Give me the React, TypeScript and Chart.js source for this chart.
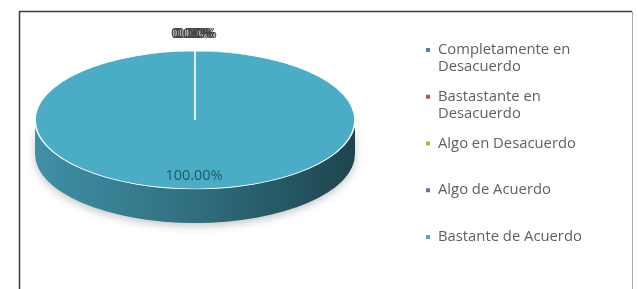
import { useEffect, useRef } from "react";
import { Chart, registerables } from "chart.js";

Chart.register(...registerables);

// ---- data ----
const categories = [
  "Completamente en Desacuerdo",
  "Bastastante en Desacuerdo",
  "Algo en Desacuerdo",
  "Algo de Acuerdo",
  "Bastante de Acuerdo",
];
const values = [0, 0, 0, 0, 100];
const colors = ["#4F81BD", "#C0504D", "#9BBB59", "#8064A2", "#4BACC6"];

// ---- layout / style ----
const W = 638;
const H = 289;
const CX = 195;
const CY = 120;
const RX = 160;
const RY = 69;
const DEPTH = 34;
const BASE_R = 100;
const FONT = "'Open Sans', 'Liberation Sans', sans-serif";

function shade(hex: string, f: number): string {
  const h = hex.replace("#", "");
  const r = Math.round(parseInt(h.slice(0, 2), 16) * f);
  const g = Math.round(parseInt(h.slice(2, 4), 16) * f);
  const b = Math.round(parseInt(h.slice(4, 6), 16) * f);
  return `rgb(${r},${g},${b})`;
}

const framePlugin = {
  id: "frame",
  beforeDraw(chart: any) {
    const ctx = chart.ctx;
    ctx.save();
    ctx.fillStyle = "#ffffff";
    ctx.fillRect(0, 0, W, H);
    ctx.restore();
  },
  afterDraw(chart: any) {
    const ctx = chart.ctx;
    ctx.save();
    ctx.strokeStyle = "#3a3a3a";
    ctx.lineWidth = 1.5;
    ctx.beginPath();
    ctx.moveTo(19.5, H);
    ctx.lineTo(19.5, 11.5);
    ctx.lineTo(632, 11.5);
    ctx.stroke();
    ctx.strokeStyle = "#a8a8a8";
    ctx.lineWidth = 1;
    ctx.beginPath();
    ctx.moveTo(632.5, 11.5);
    ctx.lineTo(632.5, H);
    ctx.stroke();
    ctx.restore();
  },
};

const pie3dPlugin = {
  id: "pie3d",
  beforeDatasetsDraw(chart: any) {
    const meta = chart.getDatasetMeta(0);
    const arcs = meta.data;
    const ctx = chart.ctx;
    ctx.save();
    if (!arcs.length) return;
    const { x, y, outerRadius: r } = arcs[0];
    const sx = RX / r;
    const sy = RY / r;
    ctx.translate(x, y);
    ctx.scale(sx, sy);
    ctx.translate(-x, -y);
    const d = DEPTH / sy;
    arcs.forEach((arc: any) => {
      const s = arc.startAngle;
      const e = arc.endAngle;
      if (e - s <= 0) return;
      const base = arc.options.backgroundColor as string;
      for (let k = -1; k <= 1; k++) {
        const lo = Math.max(s, 2 * Math.PI * k);
        const hi = Math.min(e, Math.PI + 2 * Math.PI * k);
        if (hi <= lo) continue;
        ctx.save();
        ctx.beginPath();
        ctx.arc(x, y, r, lo, hi);
        ctx.arc(x, y + d, r, hi, lo, true);
        ctx.closePath();
        const g = ctx.createLinearGradient(x - r, 0, x + r, 0);
        g.addColorStop(0, shade(base, 0.84));
        g.addColorStop(0.45, shade(base, 0.66));
        g.addColorStop(1, shade(base, 0.4));
        ctx.fillStyle = g;
        ctx.shadowColor = "rgba(0,0,0,0.22)";
        ctx.shadowBlur = 8;
        ctx.shadowOffsetY = 3;
        ctx.fill();
        ctx.restore();
      }
    });
  },
  afterDatasetsDraw(chart: any) {
    const ctx = chart.ctx;
    ctx.restore();
    const meta = chart.getDatasetMeta(0);
    const arcs = meta.data;
    if (!arcs.length) return;
    const data = chart.data.datasets[0].data as number[];
    const total = data.reduce((a, b) => a + b, 0);
    const { x, y } = arcs[0];
    ctx.save();
    ctx.textAlign = "center";
    ctx.textBaseline = "middle";
    ctx.font = `14.5px ${FONT}`;
    let small = 0;
    arcs.forEach((arc: any, i: number) => {
      const v = data[i];
      const frac = total ? v / total : 0;
      const pct = (frac * 100).toFixed(2) + "%";
      const m = (arc.startAngle + arc.endAngle) / 2;
      let lx: number;
      let ly: number;
      if (frac > 0.05) {
        lx = x + Math.cos(m) * RX * 0.8 - 1;
        ly = y + Math.sin(m) * RY * 0.81;
        ctx.fillStyle = "#215a6b";
      } else {
        lx = x + Math.cos(m) * RX + (small - 1.5) * 1.8 - 1;
        ly = y + Math.sin(m) * RY - 17;
        ctx.fillStyle = "#404040";
        small++;
      }
      ctx.fillText(pct, lx, ly);
    });
    ctx.restore();
  },
};

const legendPlugin = {
  id: "sideLegend",
  afterDraw(chart: any) {
    const ctx = chart.ctx;
    const labels = chart.data.labels as string[];
    const bg = chart.data.datasets[0].backgroundColor as string[];
    const LX = 426;
    const TX = 438;
    const TOP = 50;
    const SLOT = 46.75;
    const LINE = 17;
    const MAXW = 155;
    ctx.save();
    ctx.font = `14.8px ${FONT}`;
    ctx.textBaseline = "middle";
    ctx.textAlign = "left";
    labels.forEach((lab, i) => {
      const words = lab.split(" ");
      const lines: string[] = [];
      let cur = "";
      words.forEach((w) => {
        const t = cur ? cur + " " + w : w;
        if (ctx.measureText(t).width > MAXW && cur) {
          lines.push(cur);
          cur = w;
        } else cur = t;
      });
      if (cur) lines.push(cur);
      const y0 = TOP + i * SLOT;
      ctx.fillStyle = bg[i];
      ctx.fillRect(LX, y0 - 2, 4, 4);
      ctx.fillStyle = "#5f5f5f";
      lines.forEach((ln, j) => ctx.fillText(ln, TX, y0 + j * LINE));
    });
    ctx.restore();
  },
};

export default function App() {
  const ref = useRef<HTMLCanvasElement | null>(null);
  useEffect(() => {
    if (!ref.current) return;
    const chart = new Chart(ref.current, {
      type: "pie",
      data: {
        labels: categories,
        datasets: [
          {
            data: values,
            backgroundColor: colors,
            borderColor: "#ffffff",
            borderWidth: 1,
          },
        ],
      },
      options: {
        responsive: false,
        maintainAspectRatio: false,
        animation: false,
        events: [],
        layout: {
          padding: {
            left: CX - BASE_R,
            right: W - (CX + BASE_R),
            top: CY - BASE_R,
            bottom: H - (CY + BASE_R),
          },
        },
        plugins: {
          legend: { display: false },
          tooltip: { enabled: false },
        },
      },
      plugins: [framePlugin, pie3dPlugin, legendPlugin],
    });
    return () => chart.destroy();
  }, []);
  return (
    <div style={{ position: "absolute", left: 0, top: 0, width: W, height: H }}>
      <canvas ref={ref} width={W} height={H} style={{ width: W, height: H, display: "block" }} />
    </div>
  );
}
